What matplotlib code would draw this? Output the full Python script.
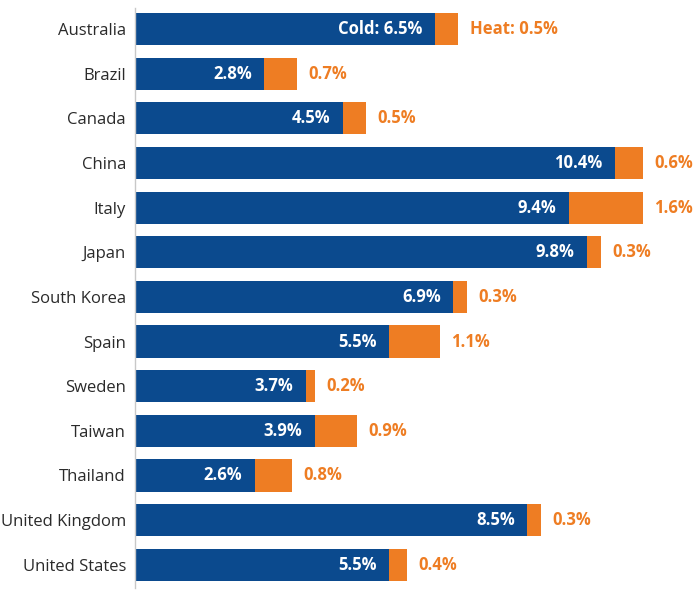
import matplotlib.pyplot as plt
import numpy as np

# Data
countries = ["Australia", "Brazil", "Canada", "China", "Italy", "Japan",
             "South Korea", "Spain", "Sweden", "Taiwan", "Thailand",
             "United Kingdom", "United States"]
cold = [6.5, 2.8, 4.5, 10.4, 9.4, 9.8, 6.9, 5.5, 3.7, 3.9, 2.6, 8.5, 5.5]
heat = [0.5, 0.7, 0.5, 0.6, 1.6, 0.3, 0.3, 1.1, 0.2, 0.9, 0.8, 0.3, 0.4]

BLUE = "#0b4a8e"
ORANGE = "#ee7d23"

plt.rcParams['font.family'] = ['Open Sans', 'DejaVu Sans']


def main():
    fig = plt.figure(figsize=(6.96, 5.90), dpi=100)
    ax = fig.add_axes([135 / 696, 2 / 590, 561 / 696, 580 / 590])

    y = np.arange(len(countries))
    ax.barh(y, cold, height=0.72, color=BLUE)
    ax.barh(y, heat, left=cold, height=0.72, color=ORANGE)

    for i, (c, h) in enumerate(zip(cold, heat)):
        ctxt = f"{c}%" if i else f"Cold: {c}%"
        htxt = f"{h}%" if i else f"Heat: {h}%"
        ax.text(c - 0.27, i, ctxt, color="white", fontweight="bold",
                fontsize=12, ha="right", va="center")
        ax.text(c + h + 0.25, i, htxt, color=ORANGE, fontweight="bold",
                fontsize=12, ha="left", va="center")

    ax.set_xlim(0, 561 / 46.15)
    ax.set_ylim(12.52, -0.47)
    ax.set_yticks(y)
    ax.set_yticklabels(countries, fontsize=12, color="#2a2a2a")
    ax.tick_params(axis="y", length=0, pad=6.5)
    ax.set_xticks([])
    for s in ["top", "right", "bottom"]:
        ax.spines[s].set_visible(False)
    ax.spines["left"].set_color("#c8c8c8")
    ax.spines["left"].set_linewidth(1)

    fig.savefig("out.png", dpi=100)


if __name__ == "__main__":
    main()
